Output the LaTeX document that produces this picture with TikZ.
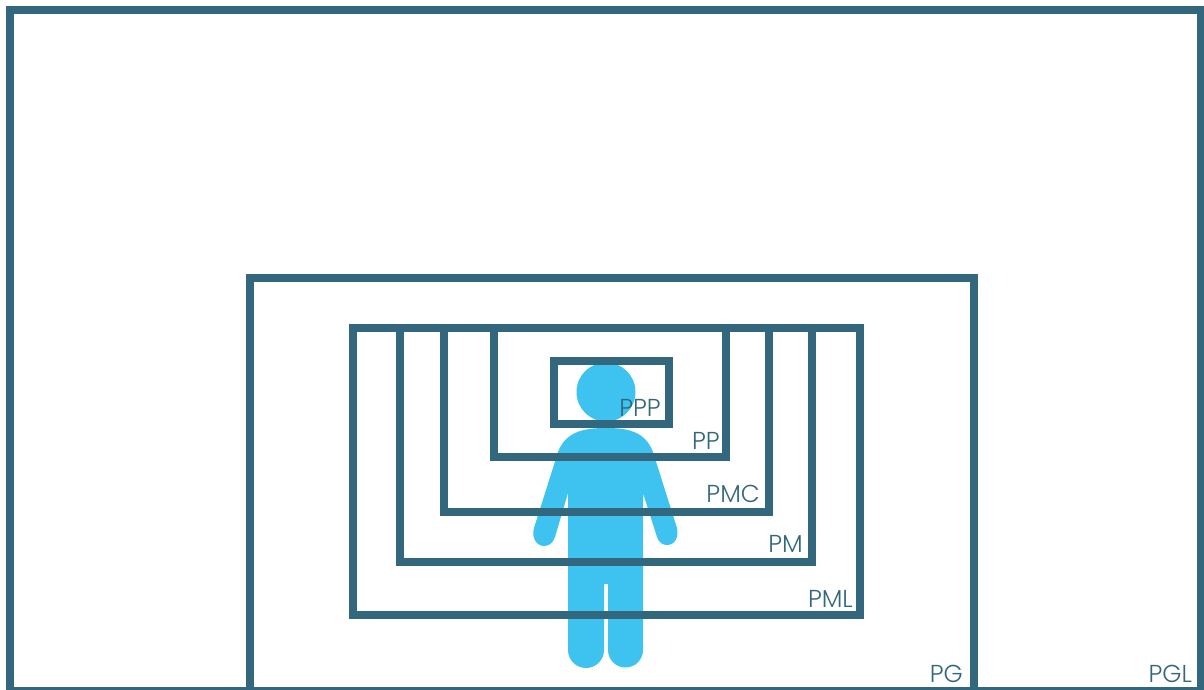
\documentclass[tikz,border=0pt]{standalone}
\usepackage{fontspec}
\setmainfont{Poppins}[UprightFont=* Light]
\definecolor{frameteal}{HTML}{33677D}
\definecolor{personblue}{HTML}{3EC3F0}
\tikzset{
  frame/.style={draw=frameteal,line width=8pt,miter limit=10},
  person/.style={fill=personblue,draw=none},
  lab/.style={anchor=base east,inner sep=0pt,text=frameteal,font=\fontsize{24.5}{24.5}\selectfont},
}
\begin{document}
\begin{tikzpicture}[x=1pt,y=-1pt]
\useasboundingbox (0,0) rectangle (1204,690);
\clip (0,0) rectangle (1204,690);
% person
\fill[person] (606,392) circle[radius=29.5];
\fill[person] (606,428) .. controls (585,428) and (566,431) .. (558,452)
  -- (534,528) .. controls (531,538) and (537,546) .. (544,546)
  .. controls (549,546) and (553,543) .. (555,537)
  -- (568,493) -- (568,650)
  arc[start angle=180,end angle=0,radius=18] -- (604,584) -- (608,584) -- (608,650)
  arc[start angle=180,end angle=0,radius=17.5]
  -- (643,493) -- (657,537)
  .. controls (659,543) and (663,545) .. (667,545)
  .. controls (675,545) and (679,537) .. (677,528)
  -- (653,452) .. controls (645,431) and (627,428) .. (606,428) -- cycle;
% frames
\draw[frame] (9.8,9.8) rectangle (1200.5,690.5);
\draw[frame] (249.5,695) -- (249.5,278) -- (973.5,278) -- (973.5,695);
\draw[frame] (352.5,327.5) rectangle (860,615);
\draw[frame] (400,327.5) -- (400,561.5) -- (812,561.5) -- (812,327.5);
\draw[frame] (443.5,327.5) -- (443.5,511.5) -- (769,511.5) -- (769,327.5);
\draw[frame] (493.5,327.5) -- (493.5,456.5) -- (726,456.5) -- (726,327.5);
\draw[frame] (554,361) rectangle (669,424);
% labels
\node[lab] (ppp) at (661,416) {PPP};
\node[lab] (pp) at (720,449) {PP};
\node[lab] (pmc) at (760,502) {PMC};
\node[lab] (pm) at (803,552) {PM};
\node[lab] (pml) at (853,607) {PML};
\node[lab] (pg) at (963,682) {PG};
\node[lab] (pgl) at (1192,682) {PGL};
\end{tikzpicture}
\end{document}
